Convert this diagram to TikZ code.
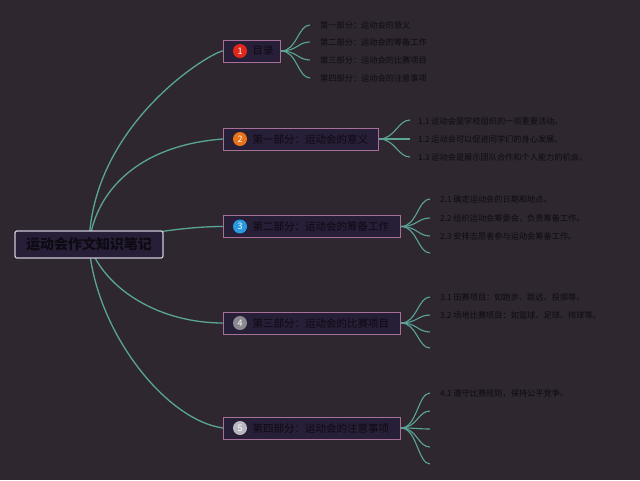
\documentclass[tikz,border=0pt]{standalone}
\usepackage{fontspec}
\setmainfont{Noto Sans CJK SC}
\definecolor{bgc}{HTML}{2E2730}
\definecolor{linec}{HTML}{5AA596}
\definecolor{boxfill}{HTML}{271E37}
\definecolor{boxborder}{HTML}{A86F98}
\definecolor{rootborder}{HTML}{CFC8D8}
\definecolor{txt}{HTML}{0E0A12}
\definecolor{c1}{HTML}{E0281A}
\definecolor{c2}{HTML}{E8731A}
\definecolor{c3}{HTML}{2A9AE0}
\definecolor{c4}{HTML}{8A8A90}
\definecolor{c5}{HTML}{B8B8C0}
\pgfdeclarelayer{bg}
\pgfsetlayers{bg,main}
\tikzset{
  rootbox/.style={draw=rootborder, line width=1.2pt, fill=boxfill, rounded corners=2pt,
    minimum width=148pt, minimum height=27pt, inner sep=0pt, text=txt,
    font=\fontsize{14}{16}\selectfont\bfseries},
  branchbox/.style={draw=boxborder, line width=1pt, fill=boxfill, minimum height=22pt,
    inner sep=0pt, anchor=west, text=txt, font=\fontsize{10.5}{12}\selectfont},
  numdot/.style={circle, inner sep=0pt, minimum size=14pt, text=white,
    font=\fontsize{9}{10}\selectfont},
  leaf/.style={anchor=west, inner sep=0pt, text=txt, font=\fontsize{8.2}{10}\selectfont},
  mainline/.style={draw=linec, line width=1.3pt},
  subline/.style={draw=linec, line width=1.1pt},
}
\begin{document}
\begin{tikzpicture}[x=1pt,y=-1pt]
\useasboundingbox (0,0) rectangle (640,480);

\node[rootbox] (root) at (89,244.5) {运动会作文知识笔记};

\node[branchbox] (b1) at (223,51) {\makebox[57pt][l]{\hspace{29pt}目录}};
\node[branchbox] (b2) at (223,139) {\makebox[155pt][l]{\hspace{29pt}第一部分：运动会的意义}};
\node[branchbox] (b3) at (223,226.5) {\makebox[177pt][l]{\hspace{29pt}第二部分：运动会的筹备工作}};
\node[branchbox] (b4) at (223,323) {\makebox[177pt][l]{\hspace{29pt}第三部分：运动会的比赛项目}};
\node[branchbox] (b5) at (223,428) {\makebox[177pt][l]{\hspace{29pt}第四部分：运动会的注意事项}};

\node[numdot, fill=c1] (n1) at (240,51) {1};
\node[numdot, fill=c2] (n2) at (240,139) {2};
\node[numdot, fill=c3] (n3) at (240,226.5) {3};
\node[numdot, fill=c4] (n4) at (240,323) {4};
\node[numdot, fill=c5] (n5) at (240,428) {5};

% leaf ends
\coordinate (e11) at (310,25);
\coordinate (e12) at (310,42);
\coordinate (e13) at (310,60);
\coordinate (e14) at (310,78);
\coordinate (e21) at (410,120);
\coordinate (e22) at (410,139);
\coordinate (e23) at (410,157);
\coordinate (e31) at (430,199);
\coordinate (e32) at (430,218);
\coordinate (e33) at (430,236);
\coordinate (e34) at (430,253);
\coordinate (e41) at (430,297);
\coordinate (e42) at (430,315);
\coordinate (e43) at (430,332);
\coordinate (e44) at (430,348);
\coordinate (e51) at (430,393);
\coordinate (e52) at (430,411);
\coordinate (e53) at (430,429);
\coordinate (e54) at (430,447);
\coordinate (e55) at (430,464);

\node[leaf] (t11) at (320,25) {第一部分：运动会的意义};
\node[leaf] (t12) at (320,42) {第二部分：运动会的筹备工作};
\node[leaf] (t13) at (320,60) {第三部分：运动会的比赛项目};
\node[leaf] (t14) at (320,78) {第四部分：运动会的注意事项};
\node[leaf] (t21) at (418,121) {1.1 运动会是学校组织的一项重要活动。};
\node[leaf] (t22) at (418,139) {1.2 运动会可以促进同学们的身心发展。};
\node[leaf] (t23) at (418,157) {1.3 运动会是展示团队合作和个人能力的机会。};
\node[leaf] (t31) at (440,199) {2.1 确定运动会的日期和地点。};
\node[leaf] (t32) at (440,218) {2.2 组织运动会筹委会，负责筹备工作。};
\node[leaf] (t33) at (440,236) {2.3 安排志愿者参与运动会筹备工作。};
\node[leaf] (t41) at (440,297) {3.1 田赛项目：如跑步、跳远、投掷等。};
\node[leaf] (t42) at (440,315) {3.2 场地比赛项目：如篮球、足球、排球等。};
\node[leaf] (t51) at (440,393) {4.1 遵守比赛规则，保持公平竞争。};

\begin{pgfonlayer}{bg}
\fill[bgc] (0,0) rectangle (640,480);
\draw[mainline] (root.center) .. controls (92,122) and (213,51) .. (b1.west);
\draw[mainline] (root.center) .. controls (95,190) and (140,145) .. (b2.west);
\draw[mainline] (root.center) .. controls (150,232) and (190,226.5) .. (b3.west);
\draw[mainline] (root.center) .. controls (105,290) and (160,323) .. (b4.west);
\draw[mainline] (root.center) .. controls (95,330) and (165,420) .. (b5.west);

\foreach \e in {e11,e12,e13,e14}
  \draw[subline] (b1.east) .. controls +(16,0) and +(-12,0) .. (\e);
\foreach \e in {e21,e22,e23}
  \draw[subline] (b2.east) .. controls +(16,0) and +(-12,0) .. (\e);
\foreach \e in {e31,e32,e33,e34}
  \draw[subline] (b3.east) .. controls +(16,0) and +(-12,0) .. (\e);
\foreach \e in {e41,e42,e43,e44}
  \draw[subline] (b4.east) .. controls +(16,0) and +(-12,0) .. (\e);
\foreach \e in {e51,e52,e53,e54,e55}
  \draw[subline] (b5.east) .. controls +(16,0) and +(-12,0) .. (\e);
\end{pgfonlayer}
\end{tikzpicture}
\end{document}
